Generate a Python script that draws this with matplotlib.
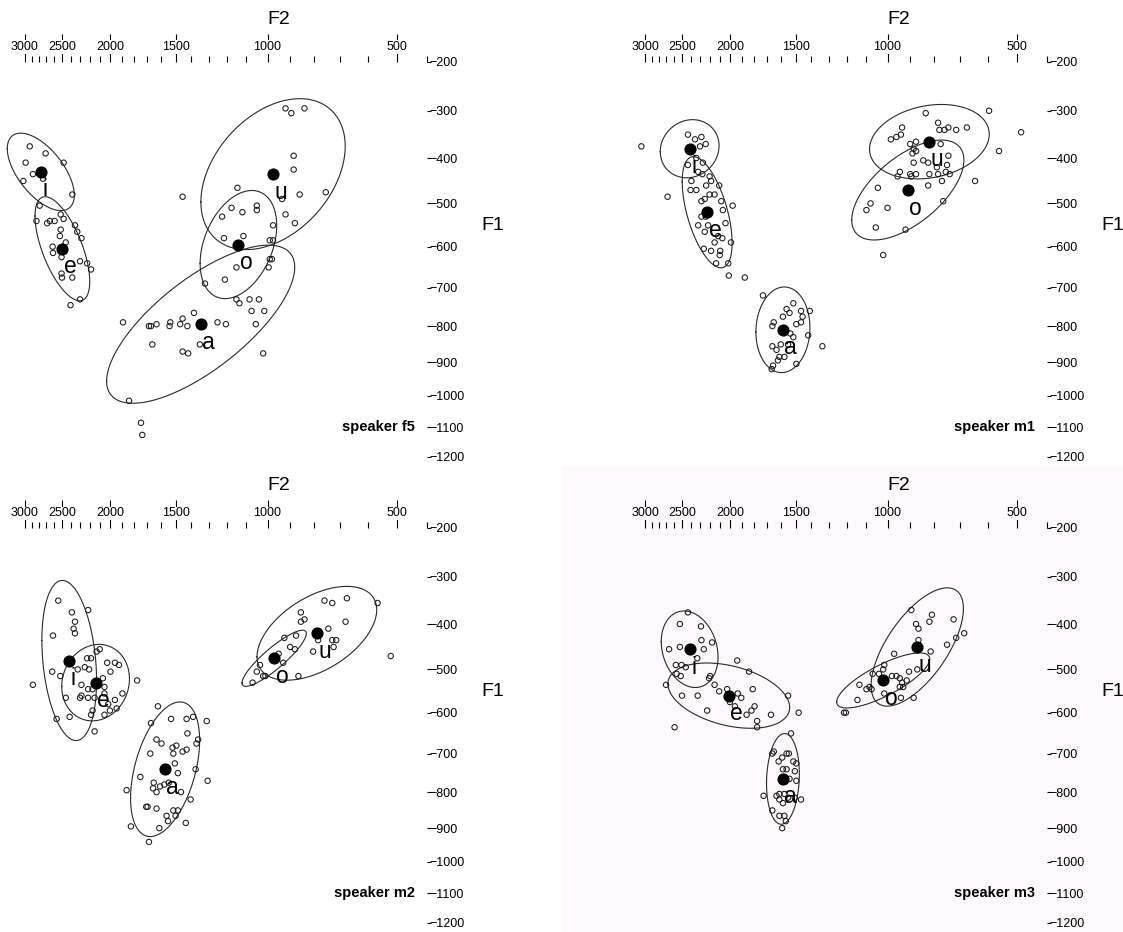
import numpy as np
import matplotlib
matplotlib.use("Agg")
import matplotlib.pyplot as plt
from matplotlib.patches import Rectangle

# ---------------- data (Hz) ----------------
VOWELS = ["i", "e", "a", "o", "u"]
SPEAKERS = ["f5", "m1", "m2", "m3"]

F2_major = [3000, 2500, 2000, 1500, 1000, 500]
F2_major_labels = ["3000", "2500", "2000", "1500", "1000", "500"]
F2_minor = [2900, 2800, 2700, 2600, 2400, 2300, 2200, 2100, 1900, 1800, 1700, 1600,
            1400, 1300, 1200, 1100, 900, 800, 700, 600, 400]
F1_ticks = [200, 300, 400, 500, 600, 700, 800, 900, 1000, 1100, 1200]
F1_tick_labels = ["\u2212200", "\u2212300", "\u2212400", "\u2212500", "\u2212600", "\u2212700",
                  "\u2212800", "\u2212900", "\u22121000", "\u22121100", "\u22121200"]

# speaker f5 tokens
f5_F2 = {
    "i": [2930, 2710, 2990, 2485, 2885, 2745, 3025, 2385, 2790],
    "e": [2835, 2690, 2655, 2595, 2520, 2485, 2520, 2530, 2355, 2330, 2285, 2620, 2460, 2615,
          2510, 2300, 2225, 2185, 2510, 2505, 2385, 2300, 2405],
    "a": [1150, 1135, 1085, 1040, 1075, 1015, 1385, 1455, 1470, 1425, 1535, 1540, 1630, 1670,
          1685, 1890, 1250, 1205, 1055, 1660, 1455, 1420, 1350, 1020, 1840, 1745, 1735],
    "o": [1175, 1120, 1050, 1050, 1225, 1215, 1115, 990, 975, 990, 980, 1150, 995, 1210, 1320],
    "u": [920, 895, 840, 885, 885, 1145, 1455, 860, 755, 935, 920, 880, 975],
}
f5_F1 = {
    "i": [375, 390, 410, 410, 435, 445, 450, 480, 505],
    "e": [540, 545, 540, 540, 525, 535, 560, 575, 550, 565, 580, 600, 590, 615,
          625, 635, 640, 655, 665, 675, 675, 730, 745],
    "a": [730, 740, 730, 730, 760, 760, 765, 780, 795, 800, 790, 800, 795, 800,
          800, 790, 790, 795, 795, 850, 870, 875, 850, 875, 1015, 1085, 1125],
    "o": [510, 520, 505, 515, 530, 580, 575, 585, 585, 630, 630, 650, 650, 680, 690],
    "u": [295, 305, 295, 395, 425, 465, 485, 480, 475, 490, 525, 545, 550],
}
f5_mean_F2 = [2775, 2500, 1345, 1140, 975]
f5_mean_F1 = [430, 605, 795, 595, 435]
# ellipse half-extents in Bark (F2, F1) and F2/F1 correlation
f5_ell_w = [0.98, 0.80, 2.75, 1.12, 2.11]
f5_ell_h = [0.76, 1.02, 1.55, 1.06, 1.48]
f5_ell_r = [-0.60, -0.63, 0.72, 0.35, 0.37]

# speaker m1 tokens
m1_F2 = {
    "i": [3055, 2435, 2355, 2285, 2240, 2300, 2340],
    "e": [2435, 2270, 2320, 2275, 2200, 2395, 2405, 2340, 2235, 2185, 2105, 2150, 2200, 2250,
          2285, 2085, 1980, 2070, 2285, 2240, 2320, 2215, 2045, 2250, 2115, 2075, 2150, 1995,
          2260, 2185, 2095, 2100, 2135, 2020, 2015, 1875, 2685],
    "a": [1730, 1650, 1660, 1585, 1560, 1515, 1540, 1465, 1410, 1455, 1465, 1420, 1515, 1550,
          1660, 1630, 1610, 1575, 1620, 1655, 1665, 1495, 1335, 1495, 1600, 1535],
    "o": [1045, 825, 1080, 1100, 1000, 765, 1055, 920, 1020],
    "u": [835, 595, 485, 935, 785, 745, 780, 760, 715, 675, 985, 960, 940, 900, 875, 775, 560,
          885, 875, 890, 745, 845, 825, 885, 750, 790, 755, 740, 945, 955, 900, 895, 875, 820,
          785, 770, 645],
}
m1_F1 = {
    "i": [375, 350, 360, 355, 370, 375, 400],
    "e": [415, 410, 430, 435, 440, 450, 470, 470, 460, 450, 460, 480, 480, 490,
          495, 495, 505, 515, 530, 530, 550, 550, 545, 565, 575, 580, 590, 590,
          605, 610, 610, 620, 640, 640, 670, 675, 485],
    "a": [720, 790, 800, 775, 755, 740, 765, 760, 760, 775, 790, 825, 830, 850,
          855, 865, 885, 885, 895, 910, 920, 905, 855, 795, 850, 820],
    "o": [465, 460, 500, 515, 510, 495, 555, 560, 620],
    "u": [305, 300, 345, 335, 325, 335, 340, 340, 340, 335, 360, 355, 350, 370, 365, 370, 385,
          380, 385, 390, 395, 405, 410, 410, 415, 420, 430, 435, 430, 440, 435, 440, 435, 435,
          435, 450, 450],
}
m1_mean_F2 = [2415, 2225, 1585, 910, 820]
m1_mean_F1 = [380, 520, 810, 470, 365]
m1_ell_w = [0.86, 0.73, 0.79, 1.64, 1.75]
m1_ell_h = [0.57, 1.09, 0.84, 0.98, 0.73]
m1_ell_r = [0.10, -0.55, 0.05, 0.60, 0.20]

# speaker m2 tokens
m2_F2 = {
    "i": [2550, 2390, 2215, 2355, 2370, 2355, 2615, 2130, 2100, 2225, 2185, 2625, 2525, 2885,
          2460, 2415, 2570, 2150],
    "e": [2325, 2250, 2205, 2030, 1960, 1925, 2000, 2070, 1775, 2285, 2215, 2170, 2055, 1895,
          2300, 2285, 2215, 2150, 2055, 1960, 2020, 1945, 2170, 2185, 2055, 2005],
    "a": [1620, 1670, 1530, 1430, 1390, 1310, 1425, 1630, 1595, 1360, 1370, 1520, 1495, 1455,
          1430, 1675, 1515, 1505, 1485, 1375, 1750, 1305, 1860, 1650, 1655, 1630, 1605, 1575,
          1545, 1465, 1405, 1705, 1695, 1630, 1515, 1485, 1560, 1550, 1500, 1435, 1825, 1610,
          1685],
    "o": [925, 875, 900, 880, 950, 930, 1035, 1050, 1020, 1010, 865, 1070],
    "u": [760, 730, 675, 565, 855, 840, 855, 680, 745, 715, 730, 725, 805, 520, 785],
}
m2_F1 = {
    "i": [350, 375, 370, 395, 410, 420, 425, 460, 455, 475, 475, 505, 515, 535,
          565, 610, 615, 645],
    "e": [500, 495, 500, 485, 485, 490, 505, 520, 525, 535, 545, 545, 540, 555,
          565, 560, 565, 565, 555, 570, 580, 590, 595, 605, 605, 595],
    "a": [585, 625, 615, 615, 610, 620, 650, 665, 675, 665, 675, 685, 680, 695,
          690, 700, 700, 725, 750, 740, 760, 770, 795, 775, 790, 800, 785, 780,
          775, 800, 820, 840, 840, 845, 850, 850, 865, 880, 865, 885, 895, 900,
          940],
    "o": [430, 425, 450, 455, 465, 485, 490, 505, 515, 515, 515, 530],
    "u": [350, 355, 345, 355, 375, 390, 395, 395, 410, 435, 435, 450, 460, 470, 435],
}
m2_mean_F2 = [2420, 2140, 1570, 970, 790]
m2_mean_F1 = [480, 530, 740, 475, 420]
m2_ell_w = [0.80, 0.99, 1.01, 0.94, 1.75]
m2_ell_h = [1.57, 0.75, 1.32, 0.55, 0.92]
m2_ell_r = [-0.25, 0.10, 0.43, 0.88, 0.50]

# speaker m3 tokens
m3_F2 = {
    "i": [2435, 2530, 2290, 2665, 2530, 2285, 2175, 2260, 2330, 2580, 2510, 2460, 2570, 2520,
          2705],
    "e": [1940, 1840, 2195, 2205, 2150, 2105, 2030, 1935, 1905, 1810, 1550, 2505, 2325, 2005,
          1960, 1795, 1820, 2225, 1860, 1670, 1480, 1775, 1775, 2595],
    "a": [1530, 1650, 1660, 1560, 1545, 1615, 1590, 1515, 1495, 1585, 1560, 1505, 1540, 1495,
          1630, 1610, 1575, 1550, 1610, 1585, 1505, 1465, 1725, 1660, 1610, 1575, 1565, 1590],
    "o": [1015, 1040, 1020, 1070, 980, 960, 945, 915, 935, 945, 930, 1135, 1085, 1100, 1075,
          1145, 1015, 940, 1215, 1205],
    "u": [895, 810, 820, 725, 875, 865, 685, 715, 750, 865, 815, 970, 905, 870, 885],
}
m3_F1 = {
    "i": [375, 400, 405, 455, 450, 435, 440, 455, 475, 490, 490, 495, 510, 515,
          535],
    "e": [480, 505, 515, 520, 535, 550, 545, 555, 565, 545, 560, 560, 560, 575,
          585, 585, 595, 595, 605, 605, 600, 620, 635, 635],
    "a": [650, 695, 700, 700, 700, 720, 710, 720, 725, 740, 740, 745, 765, 770,
          810, 805, 805, 815, 820, 830, 815, 820, 810, 850, 865, 865, 880, 900],
    "o": [490, 510, 500, 510, 515, 515, 520, 525, 530, 540, 540, 535, 540, 545, 545,
          570, 555, 565, 600, 600],
    "u": [370, 380, 395, 390, 400, 410, 420, 430, 445, 435, 460, 465, 505, 500, 565],
}
m3_mean_F2 = [2415, 2015, 1585, 1020, 870]
m3_mean_F1 = [455, 560, 765, 525, 450]
m3_ell_w = [0.83, 1.78, 0.48, 1.36, 1.35]
m3_ell_h = [0.75, 0.64, 0.89, 0.54, 1.16]
m3_ell_r = [-0.20, -0.36, 0.10, 0.78, 0.65]

# ---------------- scale ----------------
def bark(f):
    f = np.asarray(f, dtype=float)
    return 13.0 * np.arctan(0.00076 * f) + 3.5 * np.arctan((f / 7500.0) ** 2)

_grid = np.linspace(1.0, 9000.0, 90001)
_gz = bark(_grid)


def inv_bark(z):
    return np.interp(np.asarray(z, dtype=float), _gz, _grid)


# ---------------- layout ----------------
W, H = 1123, 932
PXX, PXY = 34.2, 51.0          # pixels per Bark
F2_MAX, F2_MIN = 4300, 400
F1_MIN, F1_MAX = 200, 1250
# pixel anchor of (F2=3000 column, F1=200 row) for each panel
ANCHORS = {"f5": (25, 62), "m1": (645, 62), "m2": (25, 528), "m3": (645, 528)}
BG = {"f5": "white", "m1": "white", "m2": "white", "m3": "#fdf9fc"}

FONT = ["Liberation Sans", "DejaVu Sans"]
plt.rcParams["font.family"] = FONT

fig = plt.figure(figsize=(W / 100, H / 100), dpi=100)
fig.patch.set_facecolor("white")
# faint tinted background of the m3 panel (behind everything)
bg_rect = Rectangle((562 / W, 0), 1 - 562 / W, 466 / H, transform=fig.transFigure,
                    facecolor=BG["m3"], edgecolor="none", zorder=-10)
fig.add_artist(bg_rect)

DATA = {
    "f5": (f5_F2, f5_F1, f5_mean_F2, f5_mean_F1, f5_ell_w, f5_ell_h, f5_ell_r),
    "m1": (m1_F2, m1_F1, m1_mean_F2, m1_mean_F1, m1_ell_w, m1_ell_h, m1_ell_r),
    "m2": (m2_F2, m2_F1, m2_mean_F2, m2_mean_F1, m2_ell_w, m2_ell_h, m2_ell_r),
    "m3": (m3_F2, m3_F1, m3_mean_F2, m3_mean_F1, m3_ell_w, m3_ell_h, m3_ell_r),
}

t = np.linspace(0, 2 * np.pi, 241)

for spk in SPEAKERS:
    ax0, ay0 = ANCHORS[spk]
    left_px = ax0 - PXX * (bark(F2_MAX) - bark(3000))
    width_px = PXX * (bark(F2_MAX) - bark(F2_MIN))
    height_px = PXY * (bark(F1_MAX) - bark(F1_MIN))
    ax = fig.add_axes([left_px / W, 1 - (ay0 + height_px) / H, width_px / W, height_px / H])
    ax.set_zorder(1)
    ax.set_facecolor("none")
    ax.set_xscale("function", functions=(bark, inv_bark))
    ax.set_yscale("function", functions=(bark, inv_bark))
    ax.set_xlim(F2_MAX, F2_MIN)
    ax.set_ylim(F1_MAX, F1_MIN)
    for s in ax.spines.values():
        s.set_visible(False)

    # F2 axis on top
    ax.xaxis.tick_top()
    ax.set_xticks(F2_major, F2_major_labels)
    ax.set_xticks(F2_minor, minor=True)
    ax.tick_params(axis="x", which="major", top=True, bottom=False, direction="out",
                   length=20.3, width=0.8, pad=-14.0, labelsize=9.0, labeltop=True,
                   labelbottom=False)
    ax.tick_params(axis="x", which="minor", top=True, bottom=False, direction="out",
                   length=4.6, width=0.8)
    for tk in ax.xaxis.get_major_ticks():
        tk.label2.set_bbox(dict(facecolor=BG[spk], edgecolor="none", pad=0.5))

    # F1 axis on right
    ax.yaxis.tick_right()
    ax.set_yticks(F1_ticks, F1_tick_labels)
    ax.yaxis.set_minor_locator(matplotlib.ticker.NullLocator())
    ax.tick_params(axis="y", which="major", right=True, left=False, direction="out",
                   length=2.6, width=0.8, pad=-0.9, labelsize=9.0)

    tF2, tF1, mF2, mF1, ew, eh, er = DATA[spk]
    for k, v in enumerate(VOWELS):
        cx, cy = bark(mF2[k]), bark(mF1[k])
        X = cx + ew[k] * np.cos(t)
        Y = cy + eh[k] * (er[k] * np.cos(t) + np.sqrt(1 - er[k] ** 2) * np.sin(t))
        ax.plot(inv_bark(X), inv_bark(Y), color="#2a2a2a", lw=0.8, zorder=2, clip_on=False)
        ax.scatter(tF2[v], tF1[v], s=15, facecolors="none", edgecolors="#1a1a1a",
                   linewidths=0.75, zorder=3, clip_on=False)
    ax.scatter(mF2, mF1, s=60, color="black", zorder=4, clip_on=False)
    for k, v in enumerate(VOWELS):
        ax.annotate(v, (mF2[k], mF1[k]), xytext=(1.0, -13.0), textcoords="offset points",
                    ha="left", va="center", fontsize=16.5, color="black", zorder=5)

    # axis titles and speaker label
    fig.text((ax0 + 254) / W, 1 - (ay0 - 42) / H, "F2", ha="center", va="center", fontsize=14)
    fig.text((ax0 + 468) / W, 1 - (ay0 + 163) / H, "F1", ha="center", va="center", fontsize=14)
    ax.annotate("speaker " + spk, xy=(1, 1100), xycoords=("axes fraction", "data"),
                xytext=(-9, 0), textcoords="offset points", ha="right", va="center",
                fontsize=10.5, fontweight="bold")

fig.savefig("out.png", dpi=100, facecolor=fig.get_facecolor())
